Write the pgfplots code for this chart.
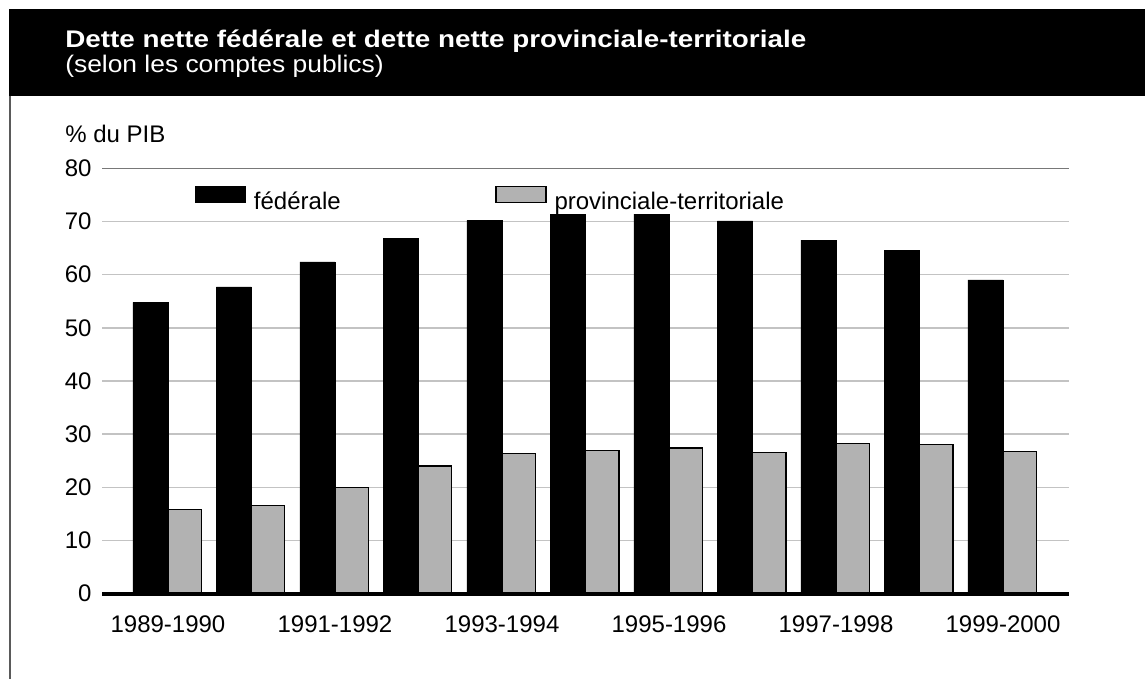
\documentclass[border=0pt]{standalone}
\usepackage{pgfplots}
\pgfplotsset{compat=1.18}
\usepackage{fontspec}
\setmainfont{Liberation Sans}
\newfontfamily\titlefont[FakeStretch=1.16]{Liberation Sans}
\newfontfamily\subfont[FakeStretch=1.1]{Liberation Sans}
\definecolor{bargray}{RGB}{178,178,178}
\definecolor{gridgray}{RGB}{195,195,195}
\definecolor{topgray}{RGB}{120,120,120}
\definecolor{bordergray}{RGB}{90,90,90}
\begin{document}
\fontsize{18}{21.6}\selectfont
\begin{tikzpicture}
\begin{scope}[x=0.75pt,y=-0.75pt]
\useasboundingbox (0,0) rectangle (1145,679);
\fill[black] (9,9) rectangle (1145,96);
\draw[bordergray, line width=1.5pt] (10,96) -- (10,679);
\node[anchor=base west, inner sep=0pt, text=white, font=\titlefont\bfseries\fontsize{18}{20}\selectfont] at (65,47.5) {Dette nette fédérale et dette nette provinciale-territoriale};
\node[anchor=base west, inner sep=0pt, text=white, font=\subfont\fontsize{18}{20}\selectfont] at (65,72) {(selon les comptes publics)};
\node[anchor=base west, inner sep=0pt, font=\fontsize{18}{20}\selectfont] at (65,142.7) {\% du PIB};
\end{scope}
\begin{axis}[
  at={(76.5pt,-445.275pt)}, anchor=south west,
  scale only axis, width=725.25pt, height=319.05pt,
  xmin=-0.79, xmax=10.79, ymin=0, ymax=80,
  axis line style={draw=none},
  ytick={0,10,...,80}, xtick={0,2,...,10},
  xticklabels={1989-1990,1991-1992,1993-1994,1995-1996,1997-1998,1999-2000},
  major tick length=0pt,
  ymajorgrids, grid style={gridgray, line width=1.1pt},
  yticklabel style={anchor=east, inner sep=0pt, xshift=-7.7pt},
  xticklabel style={anchor=north, inner sep=0pt, yshift=-16pt},
  /pgf/number format/assume math mode=true,
  tick label style={font=\fontsize{18}{20}\selectfont},
  clip=false,
  legend columns=2,
  legend style={at={(0.0962,0.926)}, anchor=west, draw=none, fill=none, inner sep=0pt,
    font=\fontsize{18}{20}\selectfont, nodes={inner sep=0pt},
    /tikz/every odd column/.append style={column sep=6pt},
    /tikz/every even column/.append style={column sep=116pt}},
]
\addplot[ybar, bar width=0.42, bar shift=-0.21, fill=black, draw=black, line width=0.5pt,
  legend image code/.code={\fill[black] (0pt,0pt) rectangle (37.5pt,12pt);}]
  coordinates {(0,54.8) (1,57.7) (2,62.4) (3,66.8) (4,70.2) (5,71.3) (6,71.4) (7,70.1) (8,66.5) (9,64.5) (10,59.0)};
\addplot[ybar, bar width=0.40, bar shift=0.20, fill=bargray, draw=black, line width=0.9pt,
  legend image code/.code={\draw[fill=bargray, draw=black, line width=0.9pt] (0pt,0pt) rectangle (37.5pt,12pt);}]
  coordinates {(0,15.9) (1,16.6) (2,19.9) (3,24.0) (4,26.3) (5,26.9) (6,27.4) (7,26.6) (8,28.2) (9,28.1) (10,26.7)};
\legend{fédérale, provinciale-territoriale}
\draw[topgray, line width=0.9pt] (axis cs:-0.79,80) -- (axis cs:10.79,80);
\draw[black, line width=3pt] (axis cs:-0.79,0) -- (axis cs:10.79,0);
\end{axis}
\end{tikzpicture}
\end{document}
